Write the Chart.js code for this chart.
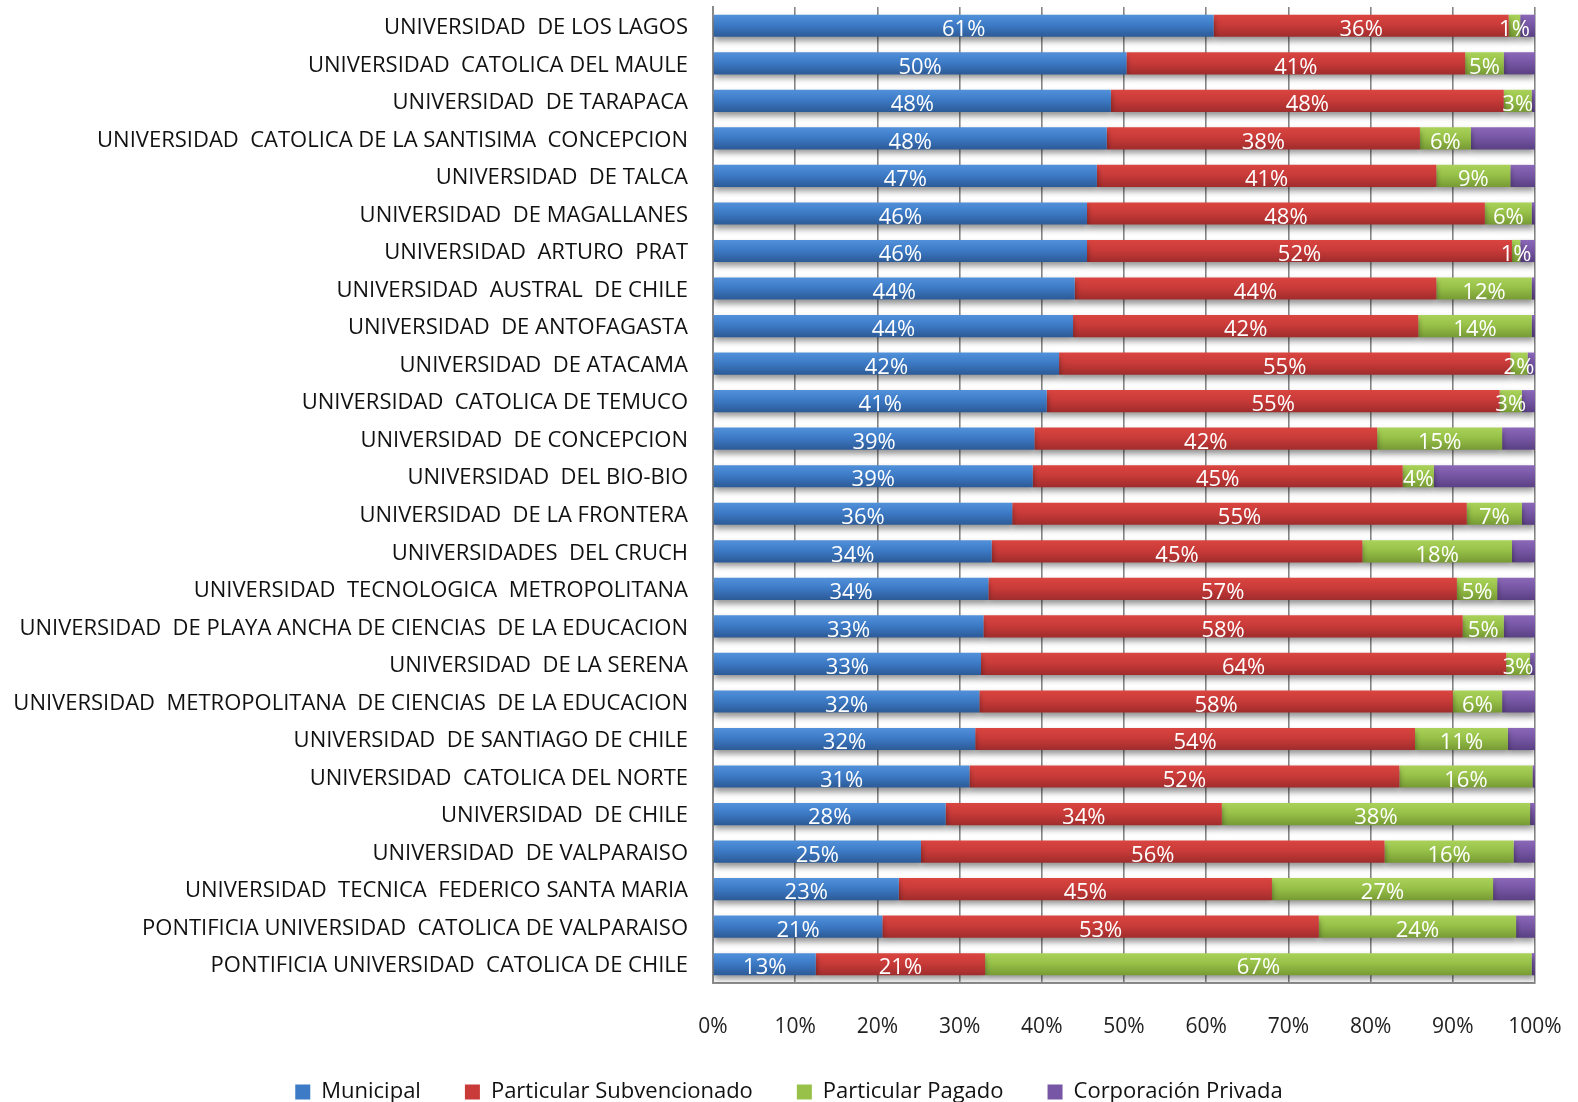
<!DOCTYPE html>
<html>
<head>
<meta charset="utf-8">
<script src="https://cdn.jsdelivr.net/npm/chart.js@4.4.1/dist/chart.umd.min.js"></script>
<style>
  html, body { margin: 0; padding: 0; background: #ffffff; }
  #wrap { width: 1578px; height: 1102px; position: relative; }
</style>
</head>
<body>
<div id="wrap"><canvas id="c" width="1578" height="1102"></canvas></div>
<script>
const categories = [
  "UNIVERSIDAD  DE LOS LAGOS",
  "UNIVERSIDAD  CATOLICA DEL MAULE",
  "UNIVERSIDAD  DE TARAPACA",
  "UNIVERSIDAD  CATOLICA DE LA SANTISIMA  CONCEPCION",
  "UNIVERSIDAD  DE TALCA",
  "UNIVERSIDAD  DE MAGALLANES",
  "UNIVERSIDAD  ARTURO  PRAT",
  "UNIVERSIDAD  AUSTRAL  DE CHILE",
  "UNIVERSIDAD  DE ANTOFAGASTA",
  "UNIVERSIDAD  DE ATACAMA",
  "UNIVERSIDAD  CATOLICA DE TEMUCO",
  "UNIVERSIDAD  DE CONCEPCION",
  "UNIVERSIDAD  DEL BIO-BIO",
  "UNIVERSIDAD  DE LA FRONTERA",
  "UNIVERSIDADES  DEL CRUCH",
  "UNIVERSIDAD  TECNOLOGICA  METROPOLITANA",
  "UNIVERSIDAD  DE PLAYA ANCHA DE CIENCIAS  DE LA EDUCACION",
  "UNIVERSIDAD  DE LA SERENA",
  "UNIVERSIDAD  METROPOLITANA  DE CIENCIAS  DE LA EDUCACION",
  "UNIVERSIDAD  DE SANTIAGO DE CHILE",
  "UNIVERSIDAD  CATOLICA DEL NORTE",
  "UNIVERSIDAD  DE CHILE",
  "UNIVERSIDAD  DE VALPARAISO",
  "UNIVERSIDAD  TECNICA  FEDERICO SANTA MARIA",
  "PONTIFICIA UNIVERSIDAD  CATOLICA DE VALPARAISO",
  "PONTIFICIA UNIVERSIDAD  CATOLICA DE CHILE"
];

const seriesNames = ["Municipal", "Particular Subvencionado", "Particular Pagado", "Corporación Privada"];

const municipal = [60.9, 50.3, 48.4, 47.9, 46.7, 45.5, 45.5, 44.0, 43.8, 42.1, 40.6, 39.1, 38.9, 36.4, 33.9, 33.5, 32.9, 32.6, 32.4, 31.9, 31.2, 28.3, 25.3, 22.6, 20.6, 12.5];
const subvencionado = [35.9, 41.2, 47.8, 38.1, 41.3, 48.4, 51.7, 44.0, 42.0, 54.9, 55.1, 41.7, 45.0, 55.3, 45.1, 57.0, 58.3, 63.9, 57.6, 53.5, 52.3, 33.6, 56.4, 45.4, 53.1, 20.6];
const pagado = [1.4, 4.7, 3.4, 6.2, 9.0, 5.7, 1.0, 11.6, 13.8, 2.1, 2.7, 15.2, 3.8, 6.7, 18.2, 4.9, 5.0, 2.9, 6.0, 11.3, 16.2, 37.5, 15.7, 26.9, 24.0, 66.5];
const privada = [1.8, 3.8, 0.4, 7.8, 3.0, 0.4, 1.8, 0.4, 0.4, 0.9, 1.6, 4.0, 12.3, 1.6, 2.8, 4.6, 3.8, 0.6, 4.0, 3.3, 0.3, 0.6, 2.6, 5.1, 2.3, 0.4];

const xTicks = [0, 10, 20, 30, 40, 50, 60, 70, 80, 90, 100];

const palette = [
  { top: "#5291da", mid: "#3d7bc7", bot: "#2c5a96" },
  { top: "#da4540", mid: "#c93b39", bot: "#a02c2c" },
  { top: "#aad25a", mid: "#97c148", bot: "#779a34" },
  { top: "#8b68b8", mid: "#7757a5", bot: "#5a4083" }
];

const BAR_PCT = 0.59;
const FONT = "'Open Sans', 'Noto Sans', sans-serif";

function gradFor(i) {
  return function (c) {
    const chart = c.chart;
    const ys = chart.scales.y;
    if (!chart.chartArea || !ys || c.type !== 'data') return palette[i].mid;
    const yc = ys.getPixelForValue(c.dataIndex);
    const band = (ys.bottom - ys.top) / categories.length;
    const h = band * BAR_PCT;
    const g = chart.ctx.createLinearGradient(0, yc - h / 2, 0, yc + h / 2);
    g.addColorStop(0, palette[i].top);
    g.addColorStop(0.45, palette[i].mid);
    g.addColorStop(1, palette[i].bot);
    return g;
  };
}

const seriesData = [municipal, subvencionado, pagado, privada];

const shadowPlugin = {
  id: 'barShadow',
  beforeDatasetsDraw(chart) {
    const ctx = chart.ctx;
    ctx.save();
    ctx.shadowColor = 'rgba(0,0,0,0.42)';
    ctx.shadowBlur = 6;
    ctx.shadowOffsetX = 0;
    ctx.shadowOffsetY = 4;
  },
  afterDatasetsDraw(chart) {
    chart.ctx.restore();
  }
};

const labelPlugin = {
  id: 'segLabels',
  afterDatasetsDraw(chart) {
    const ctx = chart.ctx;
    ctx.save();
    ctx.fillStyle = '#ffffff';
    ctx.font = "22px " + FONT;
    ctx.textAlign = 'center';
    ctx.textBaseline = 'middle';
    for (let d = 0; d < 3; d++) {
      const meta = chart.getDatasetMeta(d);
      meta.data.forEach((el, i) => {
        const v = chart.data.datasets[d].data[i];
        const x = (el.x + el.base) / 2;
        ctx.fillText(Math.round(v) + '%', x, el.y + 4);
      });
    }
    ctx.restore();
  }
};

// centre the legend row on the whole canvas width
const legendShift = {
  id: 'legendShift',
  afterLayout(chart) {
    const lg = chart.legend;
    if (!lg) return;
    const want = chart.width / 2;
    const have = (lg.left + lg.right) / 2;
    const d = want - have;
    lg.left += d;
    lg.right += d;
    if (lg.legendHitBoxes) lg.legendHitBoxes.forEach(b => { b.left += d; });
  }
};

new Chart(document.getElementById('c'), {
  type: 'bar',
  data: {
    labels: categories,
    datasets: seriesData.map((arr, i) => ({
      label: seriesNames[i],
      data: arr,
      backgroundColor: gradFor(i),
      borderWidth: 0,
      barPercentage: BAR_PCT,
      categoryPercentage: 1.0
    }))
  },
  options: {
    indexAxis: 'y',
    responsive: false,
    animation: false,
    devicePixelRatio: 1,
    layout: { padding: { top: 7, right: 43, left: 0, bottom: -11 } },
    scales: {
      x: {
        stacked: true,
        min: 0,
        max: 100,
        afterBuildTicks(scale) { scale.ticks = xTicks.map(v => ({ value: v })); },
        afterFit(scale) {
          scale.height = 54;
          scale.paddingLeft = 0;
          scale.paddingRight = 0;
        },
        ticks: {
          callback: v => v + '%',
          color: '#222222',
          font: { family: FONT, size: 21 },
          padding: 31,
          maxRotation: 0
        },
        grid: { color: '#858585', lineWidth: 1.6, drawTicks: false },
        border: { display: true, color: '#8a8a8a', width: 2 }
      },
      y: {
        stacked: true,
        afterFit(scale) {
          scale.width = 713;
          scale.paddingTop = 0;
          scale.paddingBottom = 0;
        },
        ticks: {
          color: '#111111',
          font: { family: FONT, size: 22 },
          padding: 25,
          labelOffset: 2,
          autoSkip: false
        },
        grid: { display: false, drawTicks: false },
        border: { display: true, color: '#8a8a8a', width: 2 }
      }
    },
    plugins: {
      legend: {
        position: 'bottom',
        labels: {
          boxWidth: 15,
          boxHeight: 15,
          padding: 44,
          color: '#111111',
          font: { family: FONT, size: 22 },
          generateLabels(chart) {
            return chart.data.datasets.map((ds, i) => ({
              text: ds.label,
              fillStyle: palette[i].mid,
              strokeStyle: palette[i].mid,
              lineWidth: 0,
              datasetIndex: i,
              fontColor: '#111111',
              hidden: false
            }));
          }
        }
      },
      tooltip: { enabled: false }
    }
  },
  plugins: [shadowPlugin, labelPlugin, legendShift]
});
</script>
</body>
</html>
